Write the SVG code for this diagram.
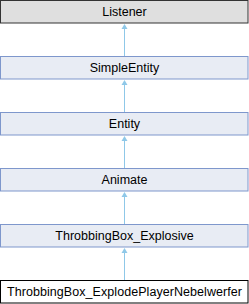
<svg xmlns="http://www.w3.org/2000/svg" width="249" height="304" viewBox="0 0 249 304">
<style>
.n rect{fill:#e8ecf4;stroke:#7e97cc;stroke-width:1}
.ext rect{fill:#dfdfdf;stroke:#333;stroke-width:1}
.cur rect{fill:#fff;stroke:#000;stroke-width:1}
text{font-family:"Liberation Sans",Arial,sans-serif;font-size:12.5px;fill:#000;text-anchor:middle}
.e line{stroke:#8fc8e8;stroke-width:1}
.e polygon{fill:#8fc8e8}
</style>
<rect width="249" height="304" fill="#fff"/>
<g class="e" id="edges">
<line x1="124.5" y1="29" x2="124.5" y2="56"/><polygon points="124.5,24 121.5,29 127.5,29"/>
<line x1="124.5" y1="85" x2="124.5" y2="112"/><polygon points="124.5,80 121.5,85 127.5,85"/>
<line x1="124.5" y1="141" x2="124.5" y2="168"/><polygon points="124.5,136 121.5,141 127.5,141"/>
<line x1="124.5" y1="197" x2="124.5" y2="224"/><polygon points="124.5,192 121.5,197 127.5,197"/>
<line x1="124.5" y1="253" x2="124.5" y2="280"/><polygon points="124.5,248 121.5,253 127.5,253"/>
</g>
<g class="ext" id="Listener"><rect x="0.5" y="0.5" width="247.5" height="22.5"/><text x="124.5" y="16">Listener</text></g>
<g class="n" id="SimpleEntity"><rect x="0.5" y="56.5" width="247.5" height="22.5"/><text x="124.5" y="72">SimpleEntity</text></g>
<g class="n" id="Entity"><rect x="0.5" y="112.5" width="247.5" height="22.5"/><text x="124.5" y="128">Entity</text></g>
<g class="n" id="Animate"><rect x="0.5" y="168.5" width="247.5" height="22.5"/><text x="124.5" y="184">Animate</text></g>
<g class="n" id="ThrobbingBox_Explosive"><rect x="0.5" y="224.5" width="247.5" height="22.5"/><text x="124.5" y="240">ThrobbingBox_Explosive</text></g>
<g class="cur" id="ThrobbingBox_ExplodePlayerNebelwerfer"><rect x="0.5" y="280.5" width="247.5" height="22.5"/><text x="124.5" y="296" textLength="235" lengthAdjust="spacing">ThrobbingBox_ExplodePlayerNebelwerfer</text></g>
</svg>
